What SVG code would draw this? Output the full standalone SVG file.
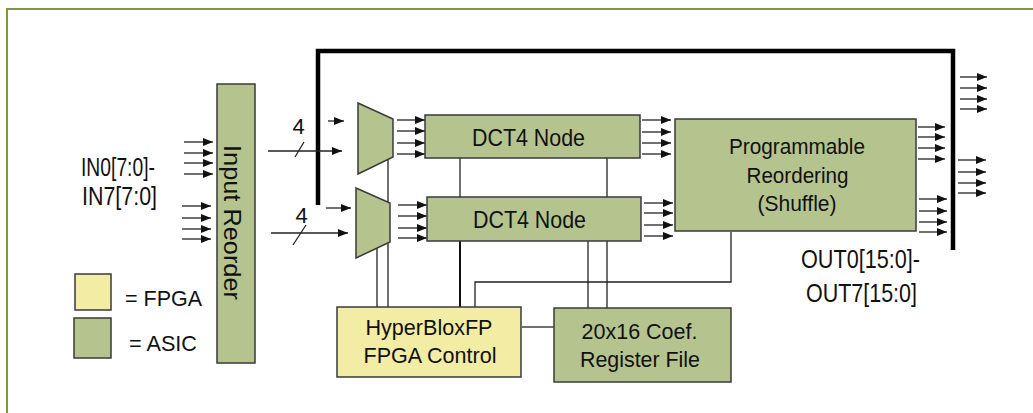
<svg xmlns="http://www.w3.org/2000/svg" width="1033" height="413" viewBox="0 0 1033 413">
<defs>
<marker id="ah" markerUnits="userSpaceOnUse" markerWidth="10" markerHeight="8" refX="10" refY="4" orient="auto">
<path d="M0,0 L10,4 L0,8 z" fill="#111"/>
</marker>
<style>
.asic{fill:#b5c48f;stroke:#3a3a3a;stroke-width:1.5}
.fpga{fill:#f3eca5;stroke:#3a3a3a;stroke-width:1.5}
.w{stroke:#222;stroke-width:1.3;fill:none}
.a{stroke:#222;stroke-width:1.3;fill:none;marker-end:url(#ah)}
.t{font-family:"Liberation Sans",Arial,sans-serif;fill:#111}
</style>
</defs>
<rect width="1033" height="413" fill="#fff"/>
<path d="M7,413 V9 H1033" fill="none" stroke="#7b9a3c" stroke-width="2"/>

<g id="connectors">
<line class="w" x1="460" y1="158" x2="460" y2="197"/>
<line class="w" x1="607" y1="158" x2="607" y2="197"/>
<line x1="460" y1="241" x2="460" y2="307" stroke="#111" stroke-width="2"/>
<line class="w" x1="588" y1="241" x2="588" y2="308"/>
<line class="w" x1="607" y1="241" x2="607" y2="308"/>
<line class="w" x1="388" y1="159" x2="388" y2="307"/>
<line class="w" x1="377" y1="247" x2="377" y2="307"/>
<polyline class="w" points="731,232 731,282 475,282 475,307"/>
<line class="w" x1="522" y1="327" x2="554" y2="327"/>
<path d="M318,205 V51 H953 V250" fill="none" stroke="#000" stroke-width="4.5"/>
<g id="in-arrows">
<line class="a" x1="184" y1="142" x2="213" y2="142"/>
<line class="a" x1="184" y1="153" x2="213" y2="153"/>
<line class="a" x1="184" y1="163" x2="213" y2="163"/>
<line class="a" x1="184" y1="174" x2="213" y2="174"/>
<line class="a" x1="182" y1="206" x2="211" y2="206"/>
<line class="a" x1="182" y1="218" x2="211" y2="218"/>
<line class="a" x1="182" y1="229" x2="211" y2="229"/>
<line class="a" x1="182" y1="239" x2="211" y2="239"/>
</g>
<g id="mux-in">
<line class="a" x1="328" y1="121" x2="344" y2="121"/>
<line class="a" x1="268" y1="151" x2="342" y2="151"/>
<line class="w" x1="295" y1="157" x2="304" y2="142"/>
<line class="a" x1="326" y1="208" x2="351" y2="208"/>
<line class="a" x1="271" y1="233" x2="348" y2="233"/>
<line class="w" x1="293" y1="245" x2="306" y2="225"/>
</g>
<g id="mux-out">
<line class="a" x1="397" y1="120" x2="425" y2="120"/>
<line class="a" x1="397" y1="131" x2="425" y2="131"/>
<line class="a" x1="397" y1="143" x2="425" y2="143"/>
<line class="a" x1="397" y1="154" x2="425" y2="154"/>
<line class="a" x1="398" y1="205" x2="427" y2="205"/>
<line class="a" x1="398" y1="216" x2="427" y2="216"/>
<line class="a" x1="398" y1="228" x2="427" y2="228"/>
<line class="a" x1="398" y1="238" x2="427" y2="238"/>
</g>
<g id="dct-out">
<line class="a" x1="642" y1="120" x2="671" y2="120"/>
<line class="a" x1="642" y1="132" x2="671" y2="132"/>
<line class="a" x1="642" y1="143" x2="671" y2="143"/>
<line class="a" x1="642" y1="154" x2="671" y2="154"/>
<line class="a" x1="644" y1="203" x2="673" y2="203"/>
<line class="a" x1="644" y1="213" x2="673" y2="213"/>
<line class="a" x1="644" y1="225" x2="673" y2="225"/>
<line class="a" x1="644" y1="236" x2="673" y2="236"/>
</g>
<g id="prog-out">
<line class="a" x1="918" y1="127" x2="945" y2="127"/>
<line class="a" x1="918" y1="137" x2="945" y2="137"/>
<line class="a" x1="918" y1="148" x2="945" y2="148"/>
<line class="a" x1="918" y1="159" x2="945" y2="159"/>
<line class="a" x1="919" y1="199" x2="947" y2="199"/>
<line class="a" x1="919" y1="211" x2="947" y2="211"/>
<line class="a" x1="919" y1="222" x2="947" y2="222"/>
<line class="a" x1="919" y1="232" x2="947" y2="232"/>
</g>
<g id="out-arrows">
<line class="a" x1="960" y1="77" x2="987" y2="77"/>
<line class="a" x1="960" y1="88" x2="987" y2="88"/>
<line class="a" x1="960" y1="99" x2="987" y2="99"/>
<line class="a" x1="960" y1="109" x2="987" y2="109"/>
<line class="a" x1="958" y1="160" x2="986" y2="160"/>
<line class="a" x1="958" y1="172" x2="986" y2="172"/>
<line class="a" x1="958" y1="183" x2="986" y2="183"/>
<line class="a" x1="958" y1="193" x2="986" y2="193"/>
</g>
<text class="t" x="298.7" y="134" font-size="22" text-anchor="middle">4</text>
<text class="t" x="301.7" y="223" font-size="22" text-anchor="middle">4</text>
</g>

<g id="in-label">
<text class="t" x="81" y="176" font-size="25" textLength="74" lengthAdjust="spacingAndGlyphs">IN0[7:0]-</text>
<text class="t" x="82" y="205" font-size="25" textLength="75" lengthAdjust="spacingAndGlyphs">IN7[7:0]</text>
</g>

<g id="input-reorder">
<rect class="asic" x="217" y="84" width="38" height="279"/>
<text class="t" transform="translate(224,222.5) rotate(90)" x="0" y="0" font-size="24" text-anchor="middle" textLength="155" lengthAdjust="spacingAndGlyphs">Input Reorder</text>
</g>

<g id="mux-top">
<polygon class="asic" points="358,103 393,119 393,157 358,174"/>
</g>
<g id="mux-bottom">
<polygon class="asic" points="356,188 390,203 390,242 356,258"/>
</g>

<g id="dct-top">
<rect class="asic" x="425" y="115" width="215" height="43"/>
<text class="t" x="472" y="146" font-size="24" textLength="113" lengthAdjust="spacingAndGlyphs">DCT4 Node</text>
</g>
<g id="dct-bottom">
<rect class="asic" x="427" y="197" width="214" height="44"/>
<text class="t" x="473" y="228" font-size="24" textLength="113" lengthAdjust="spacingAndGlyphs">DCT4 Node</text>
</g>

<g id="reordering">
<rect class="asic" x="675" y="119" width="241" height="112"/>
<text class="t" x="797" y="154" font-size="22" text-anchor="middle" textLength="136" lengthAdjust="spacingAndGlyphs">Programmable</text>
<text class="t" x="797.5" y="183" font-size="22" text-anchor="middle" textLength="102" lengthAdjust="spacingAndGlyphs">Reordering</text>
<text class="t" x="797" y="211" font-size="22" text-anchor="middle" textLength="79" lengthAdjust="spacingAndGlyphs">(Shuffle)</text>
</g>

<g id="out-label">
<text class="t" x="801" y="268" font-size="25" textLength="119" lengthAdjust="spacingAndGlyphs">OUT0[15:0]-</text>
<text class="t" x="806" y="302" font-size="25" textLength="111" lengthAdjust="spacingAndGlyphs">OUT7[15:0]</text>
</g>

<g id="hyperblox">
<rect class="fpga" x="337" y="307" width="184" height="70"/>
<text class="t" x="429" y="335" font-size="22" text-anchor="middle" textLength="127" lengthAdjust="spacingAndGlyphs">HyperBloxFP</text>
<text class="t" x="430" y="363" font-size="22" text-anchor="middle" textLength="133" lengthAdjust="spacingAndGlyphs">FPGA Control</text>
</g>

<g id="coef">
<rect class="asic" x="554" y="308" width="177" height="74"/>
<text class="t" x="639.5" y="339" font-size="22" text-anchor="middle" textLength="116" lengthAdjust="spacingAndGlyphs">20x16 Coef.</text>
<text class="t" x="640" y="367" font-size="22" text-anchor="middle" textLength="120" lengthAdjust="spacingAndGlyphs">Register File</text>
</g>

<g id="legend-fpga">
<rect class="fpga" x="75" y="274" width="36" height="36"/>
<text class="t" x="125" y="306" font-size="22" textLength="77" lengthAdjust="spacingAndGlyphs">= FPGA</text>
</g>
<g id="legend-asic">
<rect class="asic" x="74" y="318" width="37" height="40"/>
<text class="t" x="129" y="351" font-size="22" textLength="68" lengthAdjust="spacingAndGlyphs">= ASIC</text>
</g>
</svg>
